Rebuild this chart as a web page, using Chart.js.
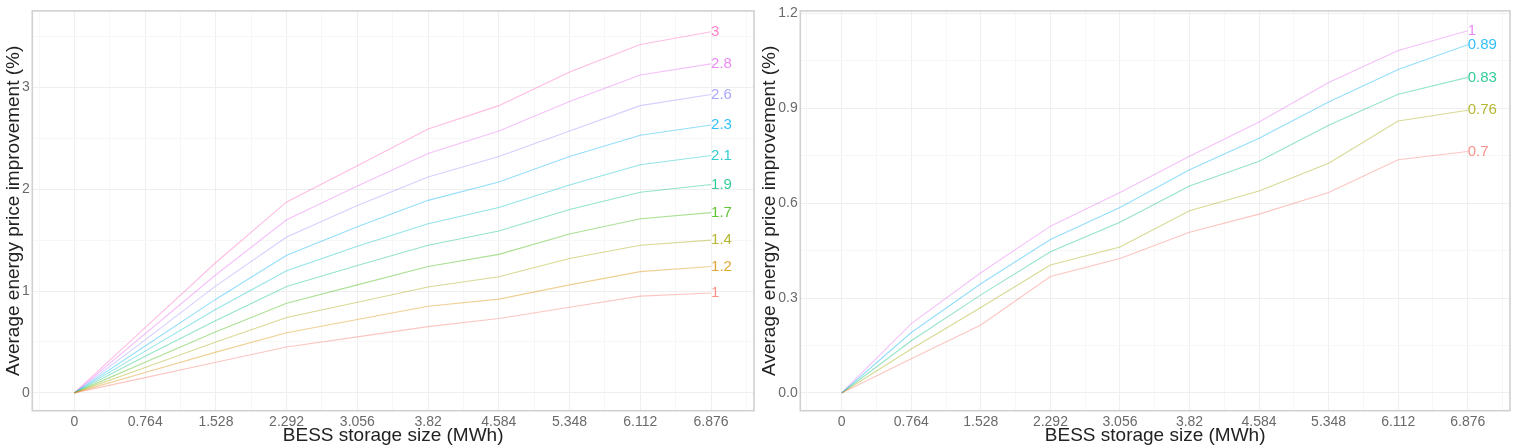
<!DOCTYPE html>
<html><head><meta charset="utf-8">
<script src="https://cdn.jsdelivr.net/npm/chart.js@4/dist/chart.umd.min.js"></script>
<style>
html,body{margin:0;padding:0;background:#fff;}
#wrap{position:relative;width:1516px;height:448px;overflow:hidden;}
.box{position:absolute;top:0;height:448px;width:758px;}
#b1{left:0;} #b2{left:758px;}
</style></head><body>
<div id="wrap"><div class="box" id="b1"><canvas id="c1" width="758" height="448"></canvas></div><div class="box" id="b2"><canvas id="c2" width="758" height="448"></canvas></div></div>
<script>
// ---- data ----
const xValues = [0, 0.764, 1.528, 2.292, 3.056, 3.82, 4.584, 5.348, 6.112, 6.876];
const xTickLabels = ["0", "0.764", "1.528", "2.292", "3.056", "3.82", "4.584", "5.348", "6.112", "6.876"];
const xMinorValues = [-0.382, 0.382, 1.146, 1.91, 2.674, 3.438, 4.202, 4.966, 5.73, 6.494, 7.258];

const leftYTickValues = [0, 1, 2, 3];
const leftYTickLabels = ["0", "1", "2", "3"];
const leftYMinorValues = [0.5, 1.5, 2.5, 3.5];
const rightYTickValues = [0, 0.3, 0.6, 0.9, 1.2];
const rightYTickLabels = ["0.0", "0.3", "0.6", "0.9", "1.2"];
const rightYMinorValues = [0.15, 0.45, 0.75, 1.05];

const leftSeriesNames = ["1", "1.2", "1.4", "1.7", "1.9", "2.1", "2.3", "2.6", "2.8", "3"];
const left_1   = [0, 0.15, 0.30, 0.45, 0.55, 0.65, 0.73, 0.84, 0.95, 0.98];
const left_1_2 = [0, 0.20, 0.40, 0.59, 0.72, 0.85, 0.92, 1.06, 1.19, 1.24];
const left_1_4 = [0, 0.25, 0.50, 0.74, 0.89, 1.04, 1.14, 1.32, 1.45, 1.50];
const left_1_7 = [0, 0.30, 0.60, 0.88, 1.06, 1.24, 1.36, 1.56, 1.71, 1.77];
const left_1_9 = [0, 0.36, 0.71, 1.045, 1.25, 1.45, 1.59, 1.80, 1.97, 2.045];
const left_2_1 = [0, 0.41, 0.82, 1.20, 1.44, 1.66, 1.82, 2.04, 2.24, 2.33];
const left_2_3 = [0, 0.46, 0.92, 1.35, 1.63, 1.89, 2.07, 2.32, 2.53, 2.63];
const left_2_6 = [0, 0.52, 1.05, 1.53, 1.84, 2.12, 2.32, 2.57, 2.82, 2.93];
const left_2_8 = [0, 0.58, 1.16, 1.70, 2.03, 2.35, 2.57, 2.86, 3.12, 3.23];
const left_3   = [0, 0.64, 1.28, 1.875, 2.23, 2.59, 2.82, 3.15, 3.42, 3.546];
const leftColors = ["#F8766D", "#D89000", "#A3A500", "#39B600", "#00BF7D", "#00BFC4", "#00B0F6", "#9590FF", "#E76BF3", "#FF62BC"];

const rightSeriesNames = ["0.7", "0.76", "0.83", "0.89", "1"];
const right_0_7  = [0, 0.108, 0.215, 0.368, 0.425, 0.508, 0.565, 0.633, 0.737, 0.763];
const right_0_76 = [0, 0.139, 0.270, 0.404, 0.461, 0.576, 0.638, 0.726, 0.859, 0.893];
const right_0_83 = [0, 0.165, 0.310, 0.446, 0.539, 0.654, 0.732, 0.846, 0.944, 0.997];
const right_0_89 = [0, 0.191, 0.345, 0.485, 0.586, 0.705, 0.805, 0.919, 1.022, 1.100];
const right_1    = [0, 0.219, 0.380, 0.527, 0.633, 0.748, 0.856, 0.981, 1.082, 1.144];
const rightColors = ["#F8766D", "#A3A500", "#00BF7D", "#00B0F6", "#E76BF3"];

const xTitle = "BESS storage size (MWh)";
const yTitle = "Average energy price improvement (%)";

// ---- helpers ----
function hexA(hex, a) {
  const n = parseInt(hex.slice(1), 16);
  return `rgba(${(n >> 16) & 255},${(n >> 8) & 255},${n & 255},${a})`;
}
const FONT = "'Liberation Sans', Arial, sans-serif";

const endLabels = {
  id: 'endLabels',
  afterDatasetsDraw(chart) {
    const ctx = chart.ctx;
    ctx.save();
    ctx.font = `15px ${FONT}`;
    ctx.textAlign = 'left';
    ctx.textBaseline = 'middle';
    chart.data.datasets.forEach((ds, i) => {
      const meta = chart.getDatasetMeta(i);
      const pt = meta.data[meta.data.length - 1];
      ctx.fillStyle = hexA(ds.labelColor, 0.8);
      ctx.fillText(ds.label, pt.x, pt.y);
    });
    ctx.restore();
  }
};
const panelBorder = {
  id: 'panelBorder',
  afterDraw(chart) {
    const a = chart.chartArea, ctx = chart.ctx;
    ctx.save();
    ctx.strokeStyle = '#d0d0d0';
    ctx.lineWidth = 1.6;
    ctx.strokeRect(a.left, a.top, a.right - a.left, a.bottom - a.top);
    ctx.restore();
  }
};

function tickSetup(majors, labels, minors) {
  const map = new Map(majors.map((v, i) => [v, labels[i]]));
  const all = majors.concat(minors).slice().sort((a, b) => a - b);
  return {
    afterBuildTicks(scale) { scale.ticks = all.map(v => ({ value: v })); },
    callback(v) { return map.has(v) ? map.get(v) : ''; },
    gridColor(ctx) { return ctx.tick && map.has(ctx.tick.value) ? '#efefef' : '#f7f7f7'; }
  };
}

function makeChart(id, names, seriesList, colors, yMajor, yLabels, yMinor, yMin, yMax, opts) {
  const xs = tickSetup(xValues, xTickLabels, xMinorValues);
  const ys = tickSetup(yMajor, yLabels, yMinor);
  const datasets = seriesList.map((s, i) => ({
    label: names[i],
    labelColor: colors[i],
    data: xValues.map((x, j) => ({ x: x, y: s[j] })),
    borderColor: hexA(colors[i], 0.42),
    borderWidth: 1.1,
    pointRadius: 0,
    tension: 0,
    fill: false
  }));
  return new Chart(document.getElementById(id), {
    type: 'line',
    data: { datasets },
    options: {
      responsive: false,
      animation: false,
      events: [],
      layout: { padding: { left: 0, right: opts.padRight, top: 6, bottom: 0 } },
      plugins: { legend: { display: false }, tooltip: { enabled: false } },
      scales: {
        x: {
          type: 'linear', min: -0.455, max: 7.34,
          afterBuildTicks: xs.afterBuildTicks,
          afterFit(scale) { scale.height = 37.3; },
          grid: { color: xs.gridColor, lineWidth: 1, drawTicks: false, tickLength: 0 },
          border: { display: false },
          ticks: { autoSkip: false, maxRotation: 0, callback: xs.callback, color: '#6a6a6a', font: { size: 14, family: FONT }, padding: 3 },
          title: { display: true, text: xTitle, color: '#222', font: { size: 19, family: FONT, lineHeight: 1 }, padding: { top: 0, bottom: 2.5 } }
        },
        y: {
          type: 'linear', min: yMin, max: yMax,
          afterBuildTicks: ys.afterBuildTicks,
          afterFit(scale) { scale.width = opts.yWidth; },
          grid: { color: ys.gridColor, lineWidth: 1, drawTicks: false, tickLength: 0 },
          border: { display: false },
          ticks: { autoSkip: false, callback: ys.callback, color: '#6a6a6a', font: { size: 14, family: FONT }, padding: 2.5 },
          title: { display: true, text: yTitle, color: '#222', font: { size: 19, family: FONT, lineHeight: 1 }, padding: { top: opts.titlePad, bottom: 0 } }
        }
      }
    },
    plugins: [endLabels, panelBorder]
  });
}

makeChart('c1', leftSeriesNames,
  [left_1, left_1_2, left_1_4, left_1_7, left_1_9, left_2_1, left_2_3, left_2_6, left_2_8, left_3],
  leftColors, leftYTickValues, leftYTickLabels, leftYMinorValues, -0.175, 3.75,
  { padRight: 4, yWidth: 32.3, titlePad: 4.5 });
makeChart('c2', rightSeriesNames,
  [right_0_7, right_0_76, right_0_83, right_0_89, right_1],
  rightColors, rightYTickValues, rightYTickLabels, rightYMinorValues, -0.056, 1.207,
  { padRight: 6, yWidth: 42.3, titlePad: 2 });
</script>
</body></html>
